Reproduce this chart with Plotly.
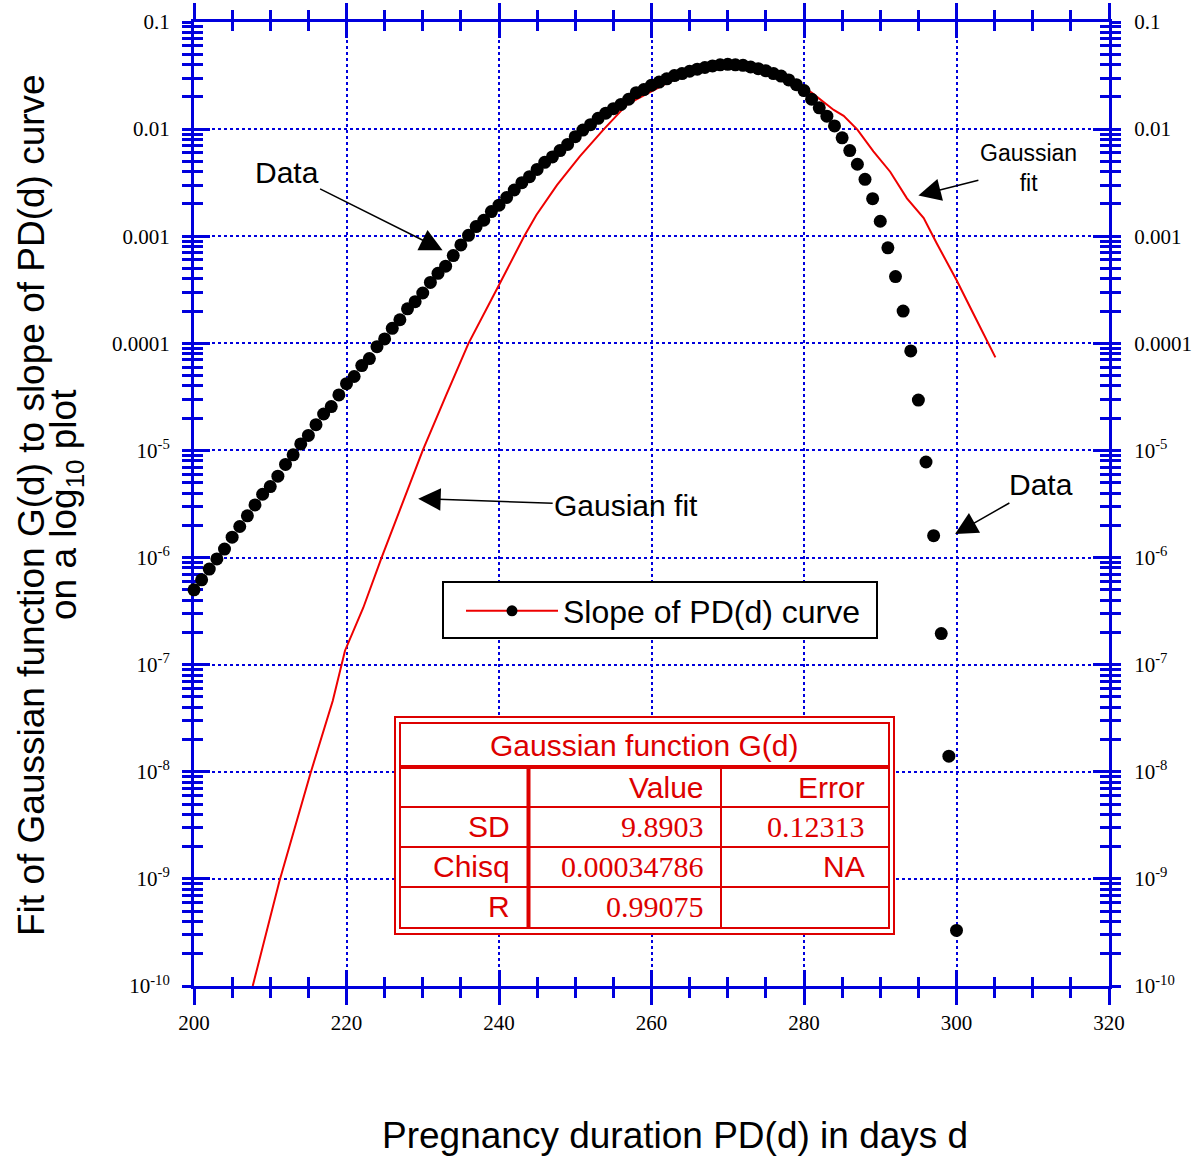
import plotly.graph_objects as go

# ---- data -------------------------------------------------------------
days = list(range(200, 301))
slope_pd = [
    5.0e-7, 6.2e-7, 7.8e-7, 9.7e-7, 1.2e-6, 1.55e-6, 1.95e-6, 2.45e-6, 3.1e-6, 3.9e-6,
    4.6e-6, 5.75e-6, 7.4e-6, 9.1e-6, 1.15e-5, 1.38e-5, 1.74e-5, 2.19e-5, 2.57e-5, 3.3e-5,
    4.2e-5, 4.9e-5, 6.2e-5, 7.2e-5, 9.3e-5, 1.1e-4, 1.38e-4, 1.66e-4, 2.1e-4, 2.45e-4,
    2.95e-4, 3.7e-4, 4.5e-4, 5.25e-4, 6.6e-4, 8.3e-4, 1.02e-3, 1.23e-3, 1.41e-3, 1.7e-3,
    1.95e-3, 2.3e-3, 2.7e-3, 3.16e-3, 3.6e-3, 4.2e-3, 4.9e-3, 5.5e-3, 6.3e-3, 7.2e-3,
    8.5e-3, 9.8e-3, 1.1e-2, 1.26e-2, 1.41e-2, 1.55e-2, 1.7e-2, 1.9e-2, 2.19e-2, 2.34e-2,
    2.57e-2, 2.75e-2, 2.95e-2, 3.16e-2, 3.3e-2, 3.47e-2, 3.63e-2, 3.76e-2, 3.89e-2, 3.98e-2,
    4.03e-2, 3.98e-2, 3.94e-2, 3.8e-2, 3.67e-2, 3.5e-2, 3.3e-2, 3.13e-2, 2.88e-2, 2.6e-2,
    2.29e-2, 1.9e-2, 1.58e-2, 1.32e-2, 1.07e-2, 8.3e-3, 6.3e-3, 4.7e-3, 3.4e-3, 2.24e-3,
    1.38e-3, 7.8e-4, 4.2e-4, 2.0e-4, 8.5e-5, 2.95e-5, 7.8e-6, 1.6e-6, 1.95e-7, 1.4e-8,
    3.3e-10,
]

fit_days = [207.7, 211.2, 215.3, 218.2, 219.8, 222.2, 224.6, 227.0, 230.0, 233.0,
            236.0, 240.0, 243.3, 244.9, 247.6, 250.6, 253.7, 256.8, 260.0, 264.0,
            268.0, 271.0, 274.0, 277.0, 281.0, 283.9, 285.2, 287.0, 289.1, 291.3,
            293.5, 295.7, 297.4, 300.0, 302.2, 303.9, 305.1]
fit_vals = [1.0e-10, 9.5e-10, 9.8e-9, 4.6e-8, 1.35e-7, 3.4e-7, 1.0e-6, 2.8e-6, 1.0e-5, 3.2e-5,
            1.0e-4, 3.5e-4, 1.0e-3, 1.58e-3, 3.0e-3, 5.56e-3, 9.9e-3, 1.7e-2, 2.26e-2, 3.2e-2,
            3.86e-2, 3.98e-2, 3.74e-2, 3.2e-2, 2.19e-2, 1.51e-2, 1.33e-2, 9.9e-3, 6.2e-3, 4.0e-3,
            2.26e-3, 1.48e-3, 8.6e-4, 3.9e-4, 1.9e-4, 1.07e-4, 7.4e-5]

x_ticks = [200, 220, 240, 260, 280, 300, 320]
y_ticks = [1e-1, 1e-2, 1e-3, 1e-4, 1e-5, 1e-6, 1e-7, 1e-8, 1e-9, 1e-10]
y_tick_text = ["0.1", "0.01", "0.001", "0.0001", "10<sup>-5</sup>", "10<sup>-6</sup>",
               "10<sup>-7</sup>", "10<sup>-8</sup>", "10<sup>-9</sup>", "10<sup>-10</sup>"]

table_title = "Gaussian function G(d)"
table_header = ["", "Value", "Error"]
table_labels = ["SD", "Chisq", "R"]
table_values = ["9.8903", "0.00034786", "0.99075"]
table_errors = ["0.12313", "NA", ""]

# ---- styling ----------------------------------------------------------
BLUE = "#0000dd"
RED = "#ee0000"
TRED = "#dd0000"
SANS = "Liberation Sans, Arial, sans-serif"
SERIF = "Liberation Serif, Times New Roman, serif"

W, H = 1203, 1158
L, R, T, B = 194, 1109, 22, 986  # plot area in pixels


def fx(p):
    return (p - L) / (R - L)


def fy(p):
    return (B - p) / (B - T)


minor_y = [m * 10.0 ** e for e in range(-10, -1) for m in range(2, 10)]

fig = go.Figure()

fig.add_trace(go.Scatter(x=fit_days, y=fit_vals, mode="lines",
                         line=dict(color=RED, width=2), showlegend=False,
                         hoverinfo="skip"))
fig.add_trace(go.Scatter(x=days, y=slope_pd, mode="markers",
                         marker=dict(color="black", size=13, line=dict(width=0)),
                         showlegend=False, cliponaxis=False))
# legend entry
fig.add_trace(go.Scatter(x=[None], y=[None], mode="lines+markers",
                         name="Slope of PD(d) curve",
                         line=dict(color=RED, width=2),
                         marker=dict(color="black", size=11)))
# carriers for the inward tick axes and the right-hand labels
fig.add_trace(go.Scatter(x=[None], y=[None], xaxis="x2", yaxis="y",
                         showlegend=False, hoverinfo="skip"))
fig.add_trace(go.Scatter(x=[None], y=[None], xaxis="x", yaxis="y3",
                         showlegend=False, hoverinfo="skip"))
fig.add_trace(go.Scatter(x=[None], y=[None], xaxis="x", yaxis="y2",
                         showlegend=False, hoverinfo="skip"))

tickfont = dict(family=SERIF, size=21, color="black")

fig.update_layout(
    width=W, height=H,
    margin=dict(l=L, r=W - R, t=T, b=H - B, pad=0, autoexpand=False),
    paper_bgcolor="white", plot_bgcolor="white",
    xaxis=dict(
        range=[200, 320], tickmode="array", tickvals=x_ticks, automargin=False,
        showline=True, linecolor=BLUE, linewidth=3, mirror="ticks",
        ticks="outside", ticklen=16, tickwidth=2.5, tickcolor=BLUE,
        showgrid=True, gridcolor=BLUE, gridwidth=2, griddash="dot",
        zeroline=False, tickfont=tickfont, ticklabelstandoff=0,
        minor=dict(ticks="outside", ticklen=9, tickwidth=2.5, tickcolor=BLUE,
                   dtick=5, tick0=200, showgrid=False),
        layer="below traces",
    ),
    xaxis2=dict(
        range=[200, 320], overlaying="x", anchor="y", side="bottom", automargin=False,
        tickmode="array", tickvals=x_ticks, showticklabels=False,
        showline=False, mirror="ticks", ticks="inside", ticklen=16,
        tickwidth=2.5, tickcolor=BLUE, showgrid=False, zeroline=False,
        minor=dict(ticks="inside", ticklen=9, tickwidth=2.5, tickcolor=BLUE,
                   dtick=5, tick0=200, showgrid=False),
        layer="below traces",
    ),
    yaxis=dict(
        type="log", range=[-10, -1], tickmode="array", tickvals=y_ticks,
        ticktext=y_tick_text, side="left", automargin=False,
        showline=True, linecolor=BLUE, linewidth=3, mirror="ticks",
        ticks="outside", ticklen=9, tickwidth=2.5, tickcolor=BLUE,
        showgrid=True, gridcolor=BLUE, gridwidth=2, griddash="dot",
        zeroline=False, tickfont=tickfont, ticklabelstandoff=8,
        minor=dict(ticks="outside", ticklen=9, tickwidth=2.5, tickcolor=BLUE,
                   tickmode="array", tickvals=minor_y, showgrid=False),
        layer="below traces",
    ),
    yaxis2=dict(
        type="log", range=[-10, -1], overlaying="y", anchor="x", side="right",
        automargin=False,
        tickmode="array", tickvals=y_ticks, ticktext=y_tick_text,
        showline=False, ticks="outside", ticklen=9, tickwidth=2.5, tickcolor=BLUE,
        showgrid=False, zeroline=False, tickfont=tickfont, ticklabelstandoff=11,
        layer="below traces",
    ),
    yaxis3=dict(
        type="log", range=[-10, -1], overlaying="y", anchor="x", side="left",
        automargin=False,
        tickmode="array", tickvals=y_ticks, showticklabels=False,
        showline=False, mirror="ticks", ticks="inside", ticklen=16,
        tickwidth=2.5, tickcolor=BLUE, showgrid=False, zeroline=False,
        minor=dict(ticks="inside", ticklen=9, tickwidth=2.5, tickcolor=BLUE,
                   tickmode="array", tickvals=minor_y, showgrid=False),
        layer="below traces",
    ),
    legend=dict(
        x=fx(461), y=fy(611), xanchor="left", yanchor="middle",
        bgcolor="rgba(0,0,0,0)", borderwidth=0,
        font=dict(family=SANS, size=32, color="black"),
        itemwidth=92,
    ),
    showlegend=True,
)

ann = []
shapes = []

# legend frame
shapes.append(dict(type="rect", xref="paper", yref="paper", layer="above",
                   x0=fx(443), x1=fx(877), y0=fy(582), y1=fy(638),
                   line=dict(color="black", width=2), fillcolor="white"))

# ---- axis titles ------------------------------------------------------
title_font = dict(family=SANS, size=37, color="black")
ann.append(dict(text="Pregnancy duration PD(d) in days d", xref="paper", yref="paper",
                x=fx(675), y=fy(1135), xanchor="center", yanchor="middle",
                showarrow=False, font=title_font))
ann.append(dict(text="Fit of Gaussian function G(d) to slope of PD(d) curve",
                xref="paper", yref="paper", x=fx(31), y=fy(505), textangle=-90,
                xanchor="center", yanchor="middle", showarrow=False, font=title_font))
ann.append(dict(text="on a log<sub>10</sub> plot",
                xref="paper", yref="paper", x=fx(66), y=fy(505), textangle=-90,
                xanchor="center", yanchor="middle", showarrow=False, font=title_font))

# ---- call-outs --------------------------------------------------------
arrow = dict(showarrow=True, arrowhead=2, arrowsize=3, arrowwidth=1.5,
             arrowcolor="black", xref="x", yref="y")
ann.append(dict(text="Data", x=232.6, y=-3.13, ax=-156, ay=-78,
                font=dict(family=SANS, size=30, color="black"), **arrow))
ann.append(dict(text="Gausian fit", x=229.4, y=-5.45, ax=208, ay=7,
                font=dict(family=SANS, size=30, color="black"), **arrow))
ann.append(dict(text="Gaussian<br>fit", x=295.0, y=-2.62, ax=110, ay=-28,
                font=dict(family=SANS, size=23, color="black"), **arrow))
ann.append(dict(text="Data", x=299.8, y=-5.78, ax=86, ay=-49,
                font=dict(family=SANS, size=30, color="black"), **arrow))

# ---- parameter table --------------------------------------------------


def rect(x0, y0, x1, y1, width, fill=None):
    shapes.append(dict(type="rect", xref="paper", yref="paper",
                       x0=fx(x0), x1=fx(x1), y0=fy(y0), y1=fy(y1),
                       line=dict(color=TRED, width=width),
                       fillcolor=fill if fill else "rgba(0,0,0,0)"))


def seg(x0, y0, x1, y1, width):
    shapes.append(dict(type="line", xref="paper", yref="paper",
                       x0=fx(x0), x1=fx(x1), y0=fy(y0), y1=fy(y1),
                       line=dict(color=TRED, width=width)))


rect(395, 717, 894, 934, 2, "white")
rect(400, 723, 889, 928, 2)
seg(400, 767, 889, 767, 4)
for yy in (807, 847, 887):
    seg(400, yy, 889, yy, 2)
seg(528.5, 767, 528.5, 928, 4)
seg(721, 767, 721, 928, 2)


def cell(text, x, y, family, anchor="right"):
    ann.append(dict(text=text, xref="paper", yref="paper", x=fx(x), y=fy(y),
                    xanchor=anchor, yanchor="middle", showarrow=False,
                    font=dict(family=family, size=30, color=TRED)))


cell(table_title, 644, 745, SANS, "center")
col_right = [512, 706, 867]
cell(table_header[1], col_right[1], 787, SANS)
cell(table_header[2], col_right[2], 787, SANS)
row_y = [826, 866, 906]
for lab, val, err, yy in zip(table_labels, table_values, table_errors, row_y):
    cell(lab, col_right[0], yy, SANS)
    cell(val, col_right[1], yy, SERIF)
    if err:
        cell(err, col_right[2], yy, SANS if err == "NA" else SERIF)

fig.update_layout(annotations=ann, shapes=shapes)

fig.write_html("out.html")
